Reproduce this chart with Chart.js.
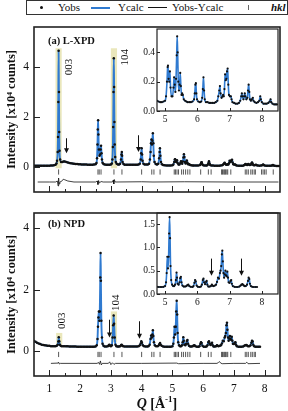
<!DOCTYPE html>
<html><head><meta charset="utf-8">
<script src="https://cdn.jsdelivr.net/npm/chart.js@4.4.1/dist/chart.umd.min.js"></script>
<style>
html,body{margin:0;padding:0;background:#fff;}
#wrap{position:relative;width:288px;height:411px;overflow:hidden;background:#fff;font-family:"Liberation Serif","Times New Roman",serif;color:#111;}
canvas{position:absolute;}
.lg{position:absolute;left:26px;top:0;width:260px;height:13px;border:1px solid #333;}
.lg .t{position:absolute;top:0;line-height:13px;font-size:11px;white-space:nowrap;}
.lg .ln{position:absolute;top:6px;height:1.5px;width:19px;display:block;}
.xt{position:absolute;left:0;width:314px;top:392px;text-align:center;font-size:14px;font-weight:bold;line-height:14px;}
</style></head>
<body><div id="wrap">
<div class="lg">
 <span style="position:absolute;left:13px;top:5px;width:3px;height:3px;border-radius:50%;background:#111"></span>
 <span class="t" style="left:31px">Yobs</span>
 <span class="ln" style="left:64px;background:#2f7ad0"></span>
 <span class="t" style="left:91px">Ycalc</span>
 <span class="ln" style="left:121px;background:#111;height:1.2px"></span>
 <span class="t" style="left:145px">Yobs-Ycalc</span>
 <span style="position:absolute;left:221px;top:4px;width:1px;height:5px;background:#666"></span>
 <span class="t" style="left:244px;font-style:italic;font-weight:bold">hkl</span>
</div>
<canvas id="cA" width="288" height="180" style="left:0;top:20px"></canvas>
<canvas id="cB" width="288" height="211" style="left:0;top:200px"></canvas>
<canvas id="cAi" width="158" height="100" style="left:130px;top:25px"></canvas>
<canvas id="cBi" width="158" height="105" style="left:130px;top:205px"></canvas>
<div class="xt"><i>Q</i> [Å<sup style="font-size:9px">-1</sup>]</div>
</div>
<script>
// ---- data (Q in 1/Å, intensity in 10^4 counts) ----
const obsA = [[0.50,.05],[0.55,.05],[0.60,.05],[0.65,.05],[0.70,.05],[0.75,.05],[0.80,.05],[0.85,.05],[0.90,.05],[0.95,.05],[1.00,.055],[1.05,.06],[1.10,.06],[1.15,.07],[1.20,.09],[1.23,.14],[1.25,.25],[1.27,.6],[1.28,1.2],[1.29,2.6],[1.30,4.65],[1.31,3.0],[1.32,1.4],[1.33,.65],[1.35,.3],[1.38,.2],[1.42,.2],[1.46,.22],[1.50,.22],[1.55,.2],[1.60,.18],[1.65,.16],[1.70,.15],[1.75,.14],[1.80,.13],[1.85,.12],[1.90,.12],[1.95,.11],[2.00,.11],[2.05,.1],[2.10,.1],[2.15,.1],[2.20,.1],[2.25,.09],[2.30,.09],[2.35,.09],[2.40,.09],[2.45,.1],[2.50,.11],[2.53,.16],[2.55,.35],[2.565,.9],[2.575,1.5],[2.585,1.87],[2.595,1.3],[2.61,.7],[2.63,.45],[2.65,.5],[2.665,.7],[2.68,.85],[2.695,.55],[2.71,.3],[2.73,.17],[2.76,.12],[2.80,.1],[2.85,.09],[2.90,.09],[2.95,.09],[3.00,.1],[3.03,.14],[3.05,.3],[3.065,.8],[3.075,1.6],[3.085,3.0],[3.095,4.35],[3.105,3.2],[3.115,1.8],[3.125,.9],[3.14,.4],[3.16,.2],[3.19,.13],[3.23,.1],[3.27,.1],[3.30,.13],[3.33,.3],[3.345,.5],[3.355,.6],[3.365,.45],[3.38,.2],[3.41,.12],[3.45,.09],[3.50,.09],[3.55,.09],[3.60,.09],[3.65,.09],[3.70,.09],[3.75,.09],[3.80,.09],[3.85,.09],[3.90,.1],[3.94,.13],[3.97,.3],[3.985,.55],[4.00,.75],[4.015,.5],[4.03,.25],[4.06,.13],[4.10,.1],[4.15,.1],[4.20,.1],[4.24,.13],[4.27,.3],[4.29,.6],[4.305,.95],[4.32,1.1],[4.335,.9],[4.35,1.05],[4.365,1.35],[4.38,.95],[4.395,.45],[4.42,.2],[4.46,.12],[4.50,.1],[4.54,.13],[4.57,.35],[4.585,.6],[4.595,.75],[4.61,.45],[4.63,.2],[4.66,.11],[4.70,.08],[4.75,.07],[4.80,.065],[4.85,.06],[4.90,.06],[4.95,.065],[5.00,.07],[5.03,.1],[5.06,.2],[5.08,.3],[5.09,.31],[5.11,.22],[5.13,.2],[5.15,.27],[5.17,.16],[5.20,.1],[5.23,.1],[5.26,.16],[5.28,.23],[5.30,.18],[5.32,.13],[5.34,.22],[5.36,.38],[5.375,.51],[5.39,.4],[5.41,.2],[5.43,.14],[5.45,.18],[5.47,.26],[5.49,.17],[5.51,.11],[5.53,.12],[5.55,.11],[5.58,.08],[5.62,.07],[5.66,.065],[5.70,.06],[5.75,.06],[5.80,.06],[5.85,.065],[5.90,.08],[5.92,.12],[5.94,.18],[5.955,.19],[5.97,.12],[5.99,.08],[6.03,.065],[6.08,.06],[6.12,.065],[6.15,.09],[6.17,.15],[6.19,.23],[6.21,.14],[6.23,.08],[6.27,.06],[6.32,.06],[6.37,.055],[6.42,.055],[6.47,.055],[6.52,.055],[6.57,.06],[6.62,.07],[6.65,.1],[6.68,.14],[6.70,.17],[6.72,.12],[6.75,.09],[6.78,.1],[6.80,.11],[6.82,.1],[6.84,.15],[6.86,.25],[6.88,.21],[6.90,.22],[6.92,.27],[6.94,.29],[6.96,.18],[6.98,.11],[7.01,.1],[7.04,.1],[7.06,.08],[7.09,.06],[7.14,.055],[7.19,.05],[7.24,.05],[7.29,.055],[7.33,.07],[7.36,.1],[7.38,.12],[7.40,.1],[7.43,.08],[7.45,.1],[7.47,.12],[7.49,.1],[7.52,.08],[7.55,.09],[7.57,.14],[7.59,.18],[7.61,.13],[7.63,.08],[7.66,.07],[7.69,.08],[7.72,.09],[7.74,.07],[7.78,.06],[7.83,.055],[7.88,.06],[7.92,.07],[7.95,.1],[7.97,.08],[8.00,.06],[8.05,.05],[8.10,.05],[8.15,.05],[8.20,.055],[8.24,.065],[8.27,.08],[8.29,.06],[8.33,.05],[8.38,.045],[8.43,.045],[8.47,.045]];
const diffA = [[0.62,-.6],[1.0,-.6],[1.2,-.6],[1.26,-.56],[1.285,-.76],[1.30,-.44],[1.315,-.68],[1.34,-.6],[1.40,-.57],[1.45,-.49],[1.50,-.51],[1.60,-.56],[1.80,-.6],[2.50,-.6],[2.56,-.56],[2.58,-.7],[2.60,-.54],[2.63,-.64],[2.68,-.58],[2.75,-.6],[3.05,-.6],[3.08,-.52],[3.095,-.68],[3.11,-.5],[3.14,-.6],[4.0,-.59],[4.37,-.6],[5.4,-.59],[6.9,-.6],[8.45,-.6]];
const obsB = [[0.50,.34],[0.55,.31],[0.60,.28],[0.65,.26],[0.70,.24],[0.75,.22],[0.80,.21],[0.85,.2],[0.90,.19],[0.95,.18],[1.00,.18],[1.05,.17],[1.10,.17],[1.15,.17],[1.20,.17],[1.24,.18],[1.27,.22],[1.29,.32],[1.305,.46],[1.32,.33],[1.34,.22],[1.37,.18],[1.40,.17],[1.45,.17],[1.50,.17],[1.55,.165],[1.60,.165],[1.65,.16],[1.70,.16],[1.75,.16],[1.80,.16],[1.85,.16],[1.90,.155],[1.95,.155],[2.00,.155],[2.05,.155],[2.10,.155],[2.15,.155],[2.20,.15],[2.25,.15],[2.30,.15],[2.35,.15],[2.40,.15],[2.45,.155],[2.50,.16],[2.54,.2],[2.565,.4],[2.58,.8],[2.595,1.1],[2.61,1.3],[2.625,1.0],[2.64,1.3],[2.655,2.4],[2.665,3.2],[2.675,2.3],[2.69,1.0],[2.71,.45],[2.73,.25],[2.76,.18],[2.80,.16],[2.85,.16],[2.90,.17],[2.93,.2],[2.95,.22],[2.97,.19],[3.00,.17],[3.03,.2],[3.055,.45],[3.075,.85],[3.09,1.17],[3.105,.9],[3.125,.45],[3.15,.22],[3.18,.17],[3.22,.16],[3.26,.16],[3.30,.17],[3.33,.2],[3.35,.22],[3.37,.19],[3.40,.17],[3.45,.16],[3.50,.16],[3.55,.16],[3.60,.16],[3.65,.16],[3.70,.16],[3.75,.16],[3.80,.16],[3.85,.16],[3.90,.17],[3.94,.2],[3.97,.26],[3.99,.33],[4.01,.28],[4.04,.2],[4.08,.17],[4.13,.16],[4.18,.16],[4.22,.17],[4.26,.22],[4.29,.4],[4.31,.52],[4.33,.45],[4.35,.55],[4.365,.69],[4.38,.5],[4.40,.3],[4.43,.2],[4.47,.17],[4.52,.17],[4.56,.2],[4.58,.24],[4.60,.27],[4.62,.22],[4.65,.18],[4.70,.16],[4.75,.155],[4.80,.15],[4.85,.15],[4.90,.15],[4.95,.155],[5.00,.17],[5.03,.25],[5.05,.45],[5.07,.8],[5.09,.55],[5.11,.8],[5.125,1.3],[5.14,1.65],[5.155,1.2],[5.17,.6],[5.19,.3],[5.22,.2],[5.25,.17],[5.28,.17],[5.31,.2],[5.335,.3],[5.355,.46],[5.37,.35],[5.39,.22],[5.42,.2],[5.45,.25],[5.47,.34],[5.49,.37],[5.51,.25],[5.54,.18],[5.58,.16],[5.62,.16],[5.66,.17],[5.69,.19],[5.72,.2],[5.75,.17],[5.80,.155],[5.85,.15],[5.88,.17],[5.91,.24],[5.93,.3],[5.95,.27],[5.98,.18],[6.02,.155],[6.07,.15],[6.11,.16],[6.14,.2],[6.17,.3],[6.19,.33],[6.21,.25],[6.24,.21],[6.27,.26],[6.29,.28],[6.31,.2],[6.34,.16],[6.38,.16],[6.42,.17],[6.45,.2],[6.47,.18],[6.50,.17],[6.54,.18],[6.58,.2],[6.61,.26],[6.64,.35],[6.67,.33],[6.70,.45],[6.72,.5],[6.74,.6],[6.76,.85],[6.775,.93],[6.79,.7],[6.81,.45],[6.83,.35],[6.85,.42],[6.87,.5],[6.89,.4],[6.91,.38],[6.93,.48],[6.95,.35],[6.97,.25],[7.00,.24],[7.03,.28],[7.05,.3],[7.07,.22],[7.10,.17],[7.15,.155],[7.20,.15],[7.25,.15],[7.30,.16],[7.34,.18],[7.37,.2],[7.40,.21],[7.43,.19],[7.46,.17],[7.50,.17],[7.54,.2],[7.57,.28],[7.59,.35],[7.61,.32],[7.63,.22],[7.66,.17],[7.70,.155],[7.75,.15],[7.80,.15],[7.85,.15]];
const diffB = [[1.05,-.39],[1.28,-.38],[1.30,-.35],[1.32,-.41],[1.36,-.39],[2.55,-.39],[2.60,-.36],[2.63,-.42],[2.66,-.31],[2.69,-.44],[2.72,-.39],[2.92,-.39],[2.96,-.34],[3.00,-.43],[3.05,-.37],[3.10,-.42],[3.15,-.39],[4.0,-.39],[5.14,-.38],[5.20,-.4],[6.0,-.39],[6.45,-.39],[6.50,-.36],[6.53,-.33],[6.57,-.38],[6.62,-.4],[7.0,-.39],[7.38,-.39],[7.42,-.35],[7.46,-.4],[7.85,-.39]];
const hklQ = [1.3,2.58,2.62,2.68,3.1,3.36,4.0,4.33,4.4,4.6,5.06,5.1,5.15,5.2,5.3,5.36,5.43,5.5,5.57,5.92,6.17,6.26,6.6,6.63,6.67,6.7,6.73,6.77,6.8,6.9,7.37,7.42,7.47,7.55,7.6,7.66,7.7,7.9,7.95,8.0,8.05,8.28];
const xTicksMain = [1,2,3,4,5,6,7,8];
const xMinorMain = [1.5,2.5,3.5,4.5,5.5,6.5,7.5];
const yTicksMain = [0,2,4];
const xTicksInset = [5,6,7,8];
const yTicksInsetA = [0,0.2,0.4];
const yTicksInsetB = [0,0.5,1.0,1.5];
// annotations: highlight boxes [q0,q1,i0,i1], arrows [q,iTail,iTip], labels [text,q,i]
const hlA = [[1.2,1.4,-0.05,4.75],[3.0,3.2,-0.05,4.75]];
const hlB = [[1.22,1.42,0.22,0.6],[3.0,3.2,0.3,1.3]];
const arrA = [[1.55,1.15,0.55],[3.89,1.27,0.6]];
const arrB = [[2.94,1.03,0.45],[3.92,0.98,0.41]];
const arrBi = [[6.41,0.76,0.39],[7.35,0.76,0.39]];
const lblA = [['003',1.65,4.0],['104',3.45,4.39]];
const lblB = [['003',1.41,1.0],['104',3.16,1.58]];

const FONT = '"Liberation Serif","Times New Roman",serif';
Chart.defaults.font.family = FONT;
Chart.defaults.color = '#111';
const BLUE = '#2f7ad0';
const pts = a => a.map(p => ({x:p[0], y:p[1]}));
const setTicks = vals => s => { s.ticks = vals.map(v => ({value:v})); };
const fixW = w => s => { s.width = w; s.paddingTop = 0; s.paddingBottom = 0; s.paddingLeft = 0; s.paddingRight = 0; };
const fixH = h => s => { s.height = h; s.paddingTop = 0; s.paddingBottom = 0; s.paddingLeft = 0; s.paddingRight = 0; };
const noGrid = {display:false, drawTicks:false};

const deco = {
  id: 'deco',
  beforeDatasetsDraw(chart, args, o) {
    const {ctx, scales:{x, y}} = chart;
    ctx.save();
    ctx.fillStyle = 'rgba(214,208,120,0.5)';
    (o.hl || []).forEach(h => {
      const x0 = x.getPixelForValue(h[0]), x1 = x.getPixelForValue(h[1]);
      const y0 = y.getPixelForValue(h[2]), y1 = y.getPixelForValue(h[3]);
      ctx.fillRect(x0, y1, x1 - x0, y0 - y1);
    });
    ctx.restore();
  },
  afterDatasetsDraw(chart, args, o) {
    const {ctx, chartArea:a, scales:{x, y}} = chart;
    ctx.save();
    ctx.strokeStyle = '#222';
    ctx.lineWidth = o.fw || 1.5;
    ctx.strokeRect(a.left, a.top, a.right - a.left, a.bottom - a.top);
    ctx.lineWidth = 1;
    const seg = (x0, y0, x1, y1) => { ctx.beginPath(); ctx.moveTo(x0, y0); ctx.lineTo(x1, y1); ctx.stroke(); };
    (o.xMaj || []).forEach(v => { const p = Math.round(x.getPixelForValue(v)) + 0.5; seg(p, a.bottom, p, a.bottom - o.tl); });
    (o.xMin || []).forEach(v => { const p = Math.round(x.getPixelForValue(v)) + 0.5; seg(p, a.bottom, p, a.bottom - o.tl / 2); });
    (o.yMaj || []).forEach(v => { const p = Math.round(y.getPixelForValue(v)) + 0.5; seg(a.left, p, a.left + o.tl, p); });
    // arrows
    ctx.fillStyle = '#111'; ctx.strokeStyle = '#111'; ctx.lineWidth = 1;
    (o.arr || []).forEach(r => {
      const px = Math.round(x.getPixelForValue(r[0])) + 0.5;
      const yt = y.getPixelForValue(r[1]), yp = y.getPixelForValue(r[2]);
      seg(px, yt, px, yp - 4);
      ctx.beginPath(); ctx.moveTo(px - 2.5, yp - 5); ctx.lineTo(px + 2.5, yp - 5); ctx.lineTo(px, yp); ctx.closePath(); ctx.fill();
    });
    // rotated peak labels
    ctx.font = '11px ' + FONT; ctx.textAlign = 'center'; ctx.textBaseline = 'middle';
    (o.lbl || []).forEach(t => {
      ctx.save();
      ctx.translate(x.getPixelForValue(t[1]), y.getPixelForValue(t[2]));
      ctx.rotate(-Math.PI / 2);
      ctx.fillText(t[0], 0, 0);
      ctx.restore();
    });
    if (o.title) {
      ctx.font = 'bold 10.5px ' + FONT; ctx.textAlign = 'left'; ctx.textBaseline = 'middle';
      ctx.fillText(o.title, a.left + 14, a.top + o.titleDy);
    }
    ctx.restore();
  }
};

function mainChart(id, obs, diff, hkl, hklY, yMin, yMax, showX, pad, xH, dopts) {
  return new Chart(document.getElementById(id), {
    type: 'scatter',
    data: { datasets: [
      {label:'Yobs', data:pts(obs), showLine:false, pointRadius:1.25, pointBackgroundColor:'#111', pointBorderWidth:0, pointHoverRadius:0, order:0},
      {label:'Ycalc', data:pts(obs), showLine:true, borderColor:BLUE, borderWidth:1.9, pointRadius:0, cubicInterpolationMode:'monotone', order:1},
      {label:'Yobs-Ycalc', data:pts(diff), showLine:true, borderColor:'#111', borderWidth:0.8, pointRadius:0, order:2},
      {label:'hkl', data:hkl.map(q => ({x:q, y:hklY})), showLine:false, pointStyle:'line', rotation:90, pointRadius:2.6, pointBorderColor:'#444', pointBorderWidth:0.9, order:3}
    ]},
    options: {
      responsive:false, animation:false, devicePixelRatio:1,
      layout:{padding:pad},
      plugins:{legend:{display:false}, tooltip:{enabled:false}, deco:dopts},
      scales:{
        x:{type:'linear', min:0.5, max:8.5, display:showX, afterBuildTicks:setTicks(xTicksMain), afterFit:fixH(xH),
           grid:noGrid, border:{display:false},
           ticks:{font:{size:11.5}, padding:6, color:'#111', autoSkip:false, maxRotation:0}},
        y:{type:'linear', min:yMin, max:yMax, afterBuildTicks:setTicks(yTicksMain), afterFit:fixW(34),
           grid:noGrid, border:{display:false},
           ticks:{font:{size:11.5}, padding:5, color:'#111'},
           title:{display:true, text:'Intensity [x10⁴ counts]', font:{size:12.5, weight:'bold'}, color:'#111', padding:{top:4, bottom:0}}}
      }
    },
    plugins:[deco]
  });
}

function insetChart(id, obs, yMax, yT, pad, xH, dopts) {
  return new Chart(document.getElementById(id), {
    type: 'scatter',
    data: { datasets: [
      {label:'Yobs', data:pts(obs), showLine:false, pointRadius:1.1, pointBackgroundColor:'#111', pointBorderWidth:0, order:0, clip:0},
      {label:'Ycalc', data:pts(obs), showLine:true, borderColor:BLUE, borderWidth:1.6, pointRadius:0, cubicInterpolationMode:'monotone', order:1, clip:0}
    ]},
    options: {
      responsive:false, animation:false, devicePixelRatio:1,
      layout:{padding:pad},
      plugins:{legend:{display:false}, tooltip:{enabled:false}, deco:dopts},
      scales:{
        x:{type:'linear', min:4.75, max:8.5, afterBuildTicks:setTicks(xTicksInset), afterFit:fixH(xH),
           grid:noGrid, border:{display:false},
           ticks:{font:{size:9.5}, padding:3, color:'#111', autoSkip:false, maxRotation:0}},
        y:{type:'linear', min:0, max:yMax, afterBuildTicks:setTicks(yT), afterFit:fixW(27),
           grid:noGrid, border:{display:false},
           ticks:{font:{size:9.5}, padding:2, color:'#111', callback:v => v.toFixed(1)}}
      }
    },
    plugins:[deco]
  });
}

mainChart('cA', obsA, diffA, hklQ, -0.2, -1, 5.6, false, {left:0, right:8, top:7, bottom:8}, 0,
  {hl:hlA, arr:arrA, lbl:lblA, xMaj:xTicksMain, xMin:xMinorMain, yMaj:yTicksMain, tl:6, fw:1.6, title:'(a) L-XPD', titleDy:14});
mainChart('cB', obsB, diffB, hklQ.filter(q => q < 7.8), -0.1, -0.8, 4.5, true, {left:0, right:8, top:13, bottom:0}, 35,
  {hl:hlB, arr:arrB, lbl:lblB, xMaj:xTicksMain, xMin:xMinorMain, yMaj:yTicksMain, tl:6, fw:1.6, title:'(b) NPD', titleDy:11});
insetChart('cAi', obsA, 0.56, yTicksInsetA, {left:0, right:10, top:4, bottom:0}, 14,
  {xMaj:xTicksInset, yMaj:yTicksInsetA, tl:3, fw:1.2});
insetChart('cBi', obsB, 1.74, yTicksInsetB, {left:0, right:10, top:8, bottom:0}, 16,
  {xMaj:xTicksInset, yMaj:yTicksInsetB, tl:3, fw:1.2, arr:arrBi});
</script>
</body></html>
